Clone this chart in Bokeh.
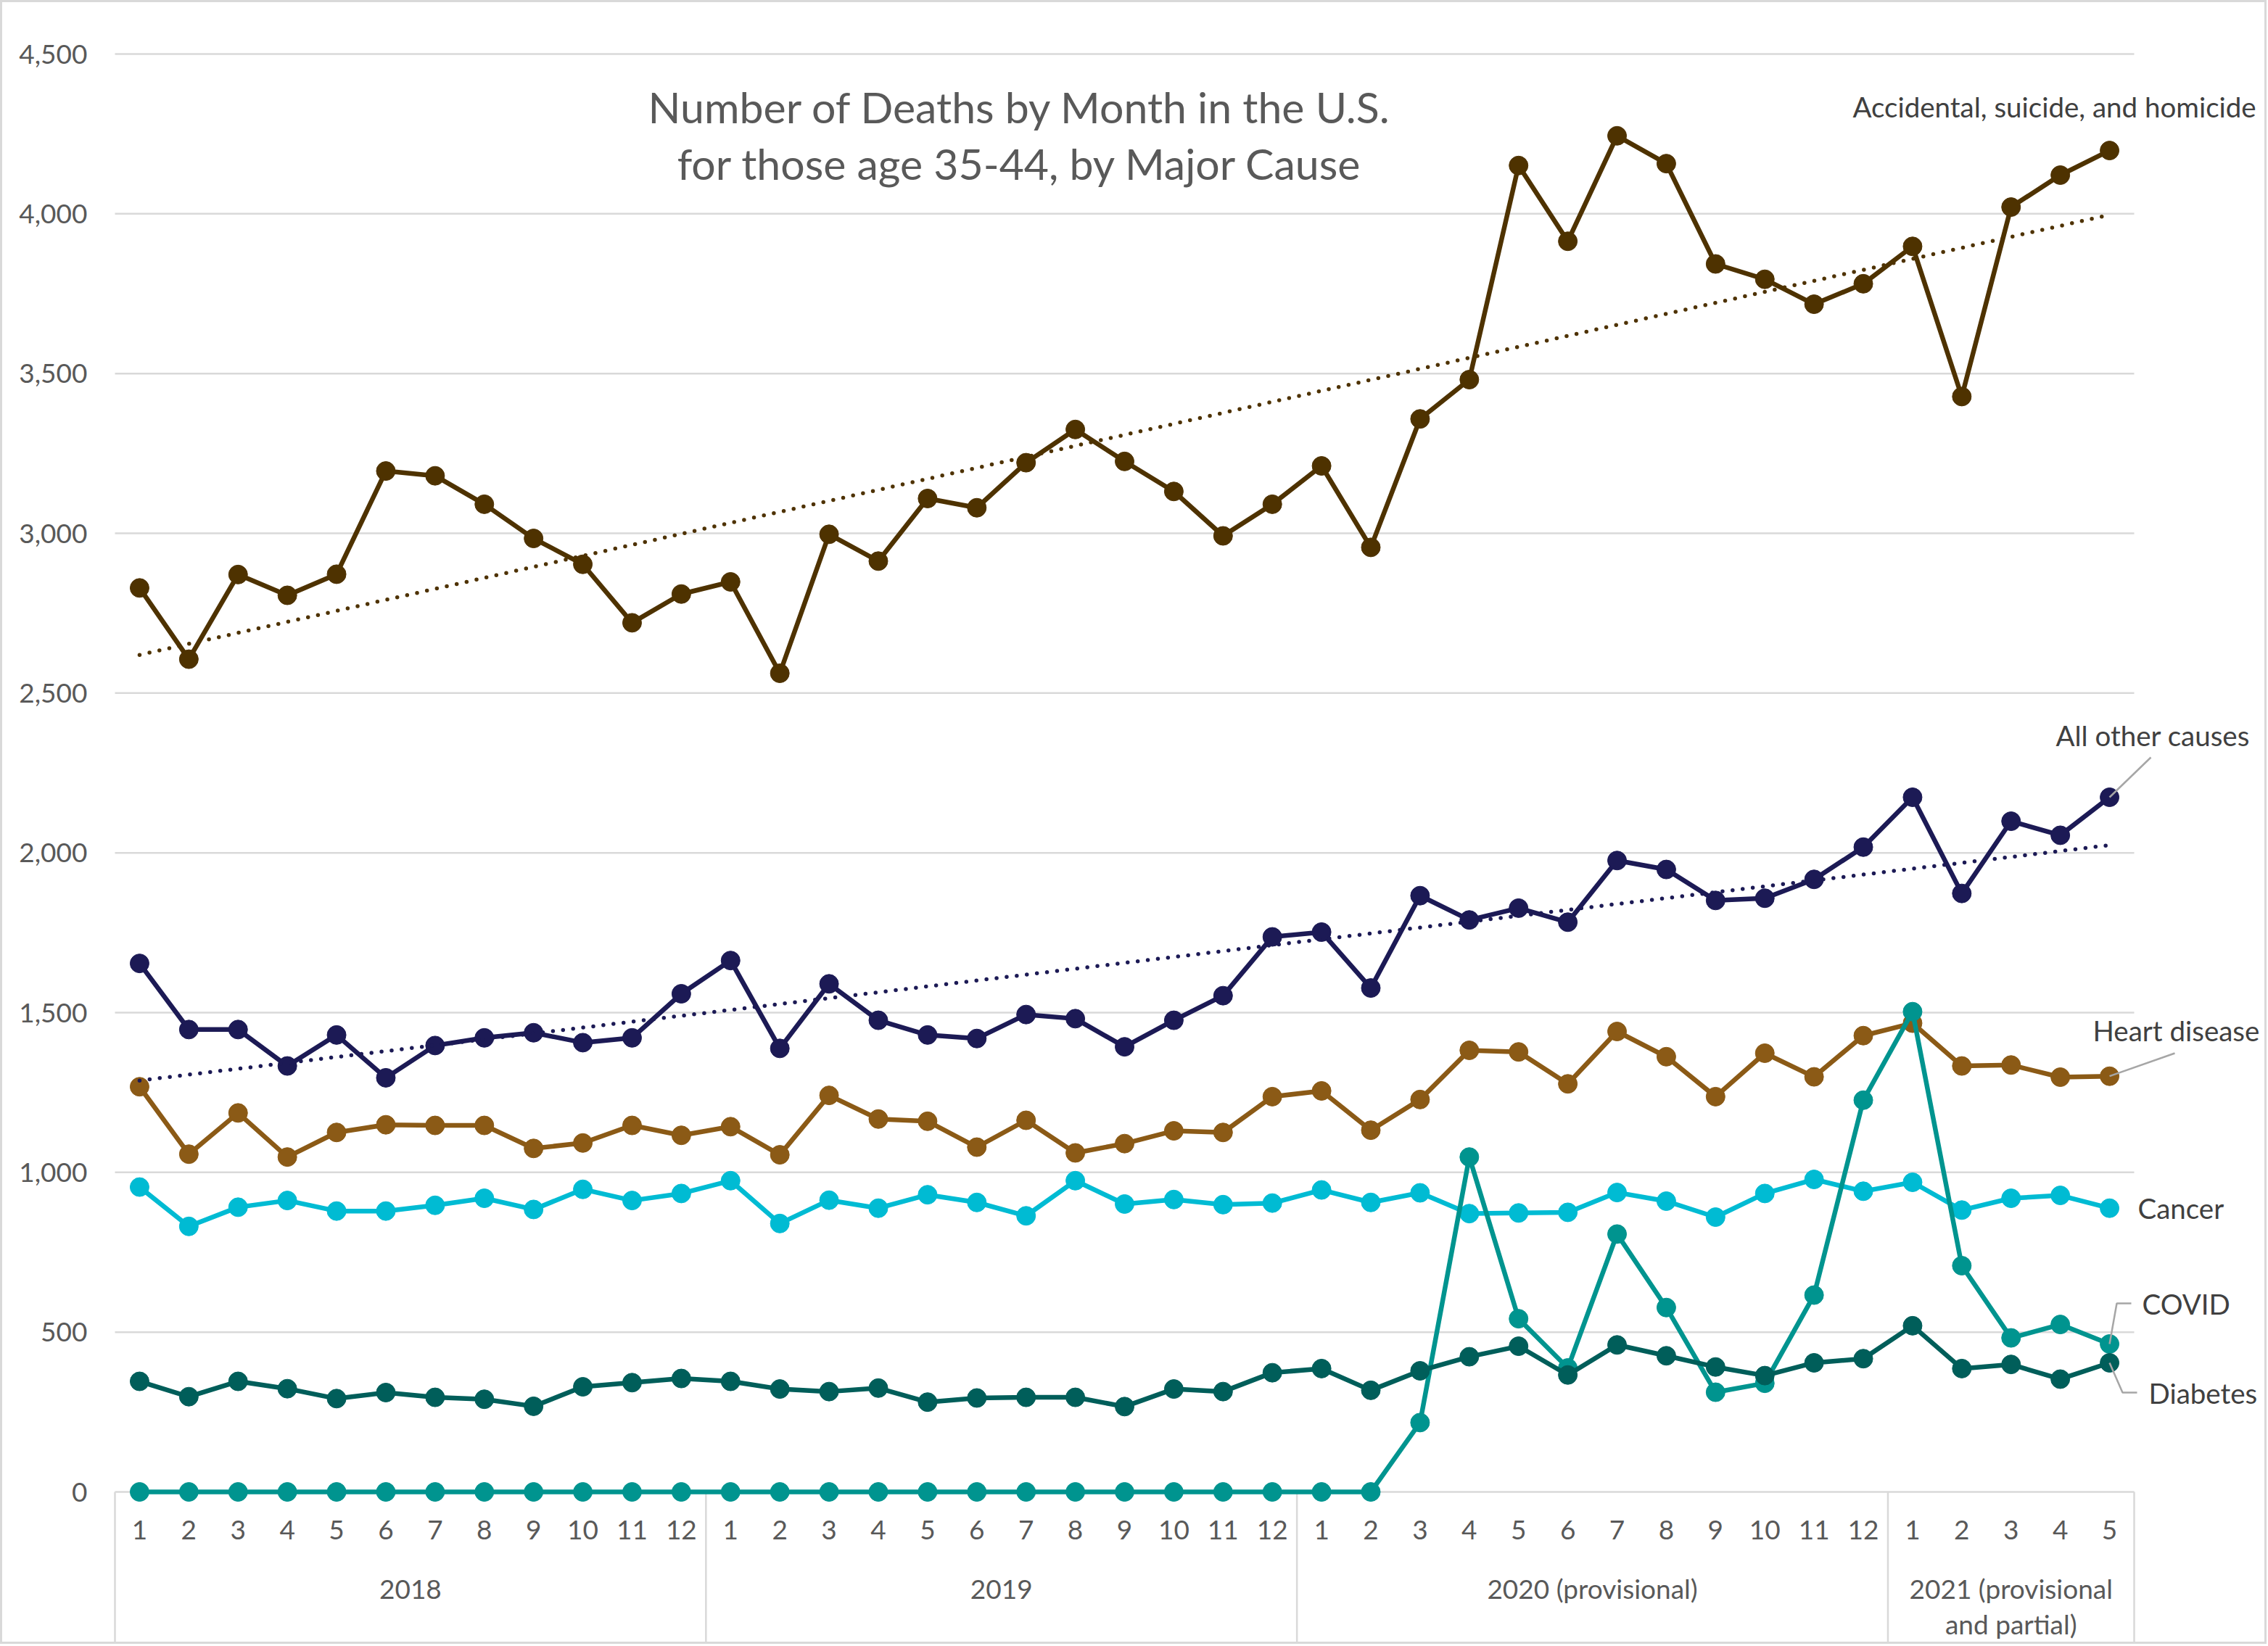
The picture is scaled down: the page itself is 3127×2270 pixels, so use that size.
import numpy as np
from bokeh.plotting import figure
from bokeh.models import Range1d, LinearAxis, FixedTicker, NumeralTickFormatter
from bokeh.core.properties import value
from bokeh.embed import file_html
from bokeh.resources import INLINE

# ---------------- data ----------------
years = ["2018", "2019", "2020 (provisional)", "2021 (provisional\nand partial)"]
months_in_year = [12, 12, 12, 5]

accidental = [2829, 2606, 2871, 2806, 2872, 3195, 3180, 3091, 2984, 2903, 2720, 2810,
              2848, 2562, 2997, 2913, 3109, 3080, 3221, 3325, 3225, 3131, 2992, 3091,
              3211, 2956, 3358, 3481, 4151, 3914, 4244, 4157, 3843, 3795, 3717, 3781,
              3898, 3428, 4021, 4121, 4198]
all_other = [1654, 1447, 1447, 1333, 1430, 1296, 1397, 1421, 1437, 1406, 1421, 1559,
             1663, 1388, 1590, 1476, 1430, 1419, 1494, 1481, 1393, 1476, 1553, 1737,
             1752, 1577, 1866, 1790, 1827, 1783, 1976, 1948, 1851, 1858, 1917, 2018,
             2174, 1873, 2099, 2055, 2174]
heart = [1268, 1057, 1186, 1048, 1125, 1149, 1147, 1147, 1075, 1092, 1147, 1116,
         1143, 1055, 1241, 1167, 1160, 1079, 1163, 1061, 1090, 1130, 1125, 1237,
         1255, 1132, 1228, 1382, 1377, 1277, 1441, 1362, 1237, 1373, 1299, 1428,
         1467, 1333, 1336, 1298, 1301]
cancer = [954, 831, 891, 912, 879, 879, 897, 919, 884, 947, 912, 934,
          974, 840, 913, 888, 930, 906, 864, 974, 901, 915, 899, 904,
          945, 906, 936, 871, 873, 875, 937, 910, 860, 934, 978, 941,
          969, 882, 919, 928, 888]
covid = [0, 0, 0, 0, 0, 0, 0, 0, 0, 0, 0, 0,
         0, 0, 0, 0, 0, 0, 0, 0, 0, 0, 0, 0,
         0, 0, 217, 1048, 542, 388, 807, 577, 312, 340, 616, 1226,
         1503, 708, 482, 524, 463]
diabetes = [346, 298, 346, 323, 292, 311, 296, 290, 268, 329, 342, 355,
            346, 322, 314, 325, 281, 294, 296, 296, 267, 322, 314, 373,
            386, 318, 379, 423, 456, 366, 460, 426, 391, 364, 404, 417,
            520, 386, 399, 353, 404]

y_ticks = [0, 500, 1000, 1500, 2000, 2500, 3000, 3500, 4000, 4500]

series = [
    ("Accidental, suicide, and homicide", accidental, "#4E3200"),
    ("All other causes", all_other, "#1C1A55"),
    ("Heart disease", heart, "#8B5A16"),
    ("Cancer", cancer, "#00BBD3"),
    ("COVID", covid, "#00948F"),
    ("Diabetes", diabetes, "#005E5A"),
]

# ---------------- geometry helpers (page px -> data) ----------------
FONT = "Lato"
W, H = 3125, 2267
CW = (2942 - 158) / 41.0          # px per month
PY = (2057 - 74) / 4500.0         # px per death


def X(px):
    return 0.5 + (px - 158) / CW


def Y(py):
    return (2057 - py) / PY


n = sum(months_in_year)
xs = list(range(1, n + 1))
month_labels = {}
year_centers = []
sep = [0.5]
k = 0
for m in months_in_year:
    for j in range(m):
        month_labels[k + j + 1] = str(j + 1)
    year_centers.append(k + (m + 1) / 2.0)
    k += m
    sep.append(k + 0.5)

p = figure(width=W, height=H, output_backend="svg", toolbar_location=None,
           x_range=Range1d(X(0), X(W)), y_range=Range1d(Y(H), Y(0)),
           x_axis_type=None, y_axis_type=None,
           min_border_left=0, min_border_right=0,
           min_border_top=0, min_border_bottom=0)
p.outline_line_color = "#D9D9D9"
p.outline_line_width = 5
p.background_fill_color = "white"
p.border_fill_color = "white"
p.xgrid.visible = False
p.ygrid.visible = False

# y axis (anchored at the left edge of the plot area)
ya = LinearAxis(ticker=FixedTicker(ticks=y_ticks, minor_ticks=[]),
                formatter=NumeralTickFormatter(format="0,0"), fixed_location=0.5)
ya.axis_line_color = None
ya.major_tick_line_color = None
ya.major_tick_out = 0
ya.major_tick_in = 0
ya.minor_tick_line_color = None
ya.major_label_text_font = FONT
ya.major_label_text_font_size = "37px"
ya.major_label_text_color = "#595959"
ya.major_label_standoff = 38
p.add_layout(ya, "left")

# month axis (sits on the zero line)
ma = LinearAxis(ticker=FixedTicker(ticks=xs, minor_ticks=[]),
                major_label_overrides=month_labels, fixed_location=0)
ma.axis_line_color = None
ma.major_tick_line_color = None
ma.major_tick_out = 0
ma.major_tick_in = 0
ma.minor_tick_line_color = None
ma.major_label_text_font = FONT
ma.major_label_text_font_size = "37px"
ma.major_label_text_color = "#595959"
ma.major_label_standoff = 39
p.add_layout(ma, "below")

# year axis
ya2 = LinearAxis(ticker=FixedTicker(ticks=year_centers, minor_ticks=[]),
                 major_label_overrides={c: t for c, t in zip(year_centers, years)},
                 fixed_location=0)
ya2.axis_line_color = None
ya2.major_tick_line_color = None
ya2.major_tick_out = 0
ya2.major_tick_in = 0
ya2.minor_tick_line_color = None
ya2.major_label_text_font = FONT
ya2.major_label_text_font_size = "37px"
ya2.major_label_text_line_height = 1.1
ya2.major_label_text_color = "#595959"
ya2.major_label_standoff = 110
p.add_layout(ya2, "below")

# year separators of the category axis
p.segment(x0=sep, x1=sep, y0=[0] * len(sep), y1=[Y(H)] * len(sep),
          line_color="#D9D9D9", line_width=2.5)

# gridlines (only across plot area)
p.segment(x0=[0.5] * len(y_ticks), x1=[n + 0.5] * len(y_ticks), y0=y_ticks, y1=y_ticks,
          line_color="#D9D9D9", line_width=2.5)

# series
for name, vals, col in series:
    p.line(xs, vals, line_color=col, line_width=6.5, line_join="round")
    p.scatter(xs, vals, size=26, fill_color=col, line_color=col)

# linear trend lines
for vals, col in [(accidental, "#4E3200"), (all_other, "#1C1A55")]:
    b, a = np.polyfit(xs, vals, 1)
    p.line([1, n], [a + b * 1, a + b * n], line_color=col, line_width=5.5,
           line_dash="0 14", line_cap="round")

# leader lines
lc = "#A6A6A6"
p.line([n, X(2965)], [all_other[-1], Y(1044)], line_color=lc, line_width=2.5)
p.line([n, X(2998)], [heart[-1], Y(1452)], line_color=lc, line_width=2.5)
p.line([n, X(2918), X(2938)], [covid[-1], Y(1797), Y(1797)], line_color=lc, line_width=2.5)
p.line([n, X(2926), X(2946)], [diabetes[-1], Y(1920), Y(1920)], line_color=lc, line_width=2.5)

# series labels
lab_pos = {
    "Accidental, suicide, and homicide": (2554, 146),
    "All other causes": (2834, 1013),
    "Heart disease": (2885, 1420),
    "Cancer": (2947, 1665),
    "COVID": (2953, 1797),
    "Diabetes": (2962, 1920),
}
for name, (px, py) in lab_pos.items():
    p.text(x=[X(px)], y=[Y(py)], text=[name], text_font=value(FONT),
           text_font_size="38.5px", text_color="#404040",
           text_align="left", text_baseline="middle")

# title
p.text(x=[X(1406), X(1406)], y=[Y(147), Y(225)],
       text=["Number of Deaths by Month in the U.S.",
             "for those age 35-44, by Major Cause"],
       text_font=value(FONT), text_font_size="59px", text_color="#595959",
       text_align="center", text_baseline="middle")

open("out.html", "w").write(file_html(p, INLINE))
